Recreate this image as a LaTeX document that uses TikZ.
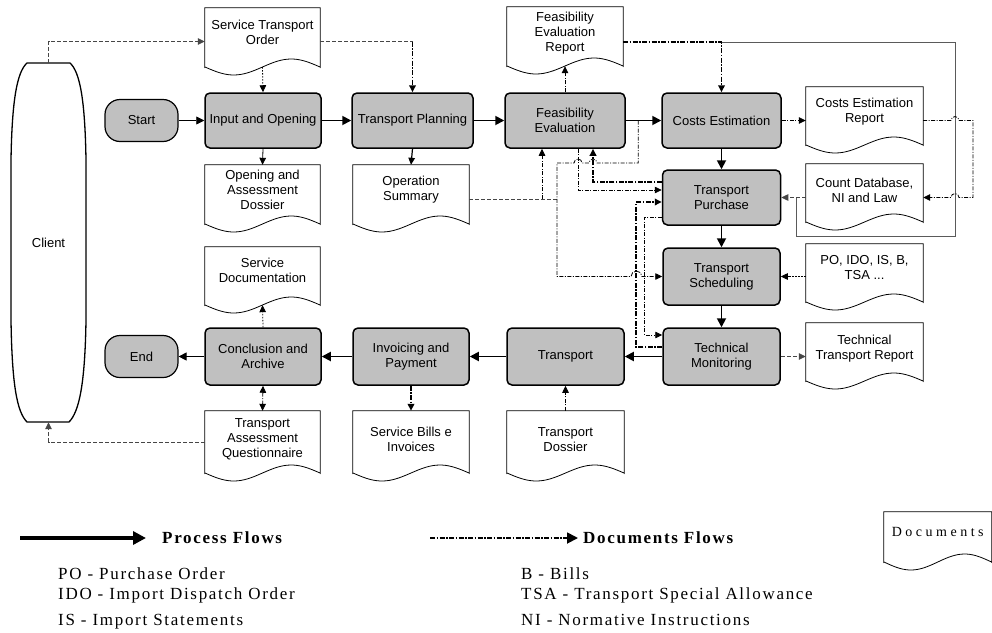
\documentclass[tikz,border=0pt]{standalone}
\usepackage{fontspec}
\setmainfont{Liberation Serif}
\setsansfont{Liberation Sans}
\newfontfamily\legfont[LetterSpace=10]{Liberation Serif}
\newfontfamily\legdocfont[LetterSpace=25]{Liberation Serif}
\usetikzlibrary{arrows.meta,calc}
\definecolor{procgray}{RGB}{192,192,192}
\definecolor{dashgray}{RGB}{70,70,70}
\definecolor{loopgray}{RGB}{90,90,90}
\newcommand\dgfont{\sffamily\fontsize{13}{15}\selectfont}
% document symbol: name, left, top, right, bottom of straight sides, text, text lift
\newcommand\docshape[7]{%
  \node[docframe, minimum width={#4-#2}, minimum height={#5-#3}] (#1) at ({(#2+#4)/2},{(#3+#5)/2}) {};
  \draw[docline] (#1.south east) -- (#1.north east) -- (#1.north west) -- (#1.south west)
    -- plot[domain=0:1, samples=36] ({#2+\x*(#4-#2)},{#5+8*sin(360*\x)}) -- cycle;
  \node[doctext] (#1t) at ([yshift=#7pt]#1.center) {#6};
}
\begin{document}
\begin{tikzpicture}[x=1pt,y=-1pt,
  proc/.style={draw, line width=1.5pt, rounded corners=5pt, fill=procgray, font=\dgfont,
    align=center, inner sep=2pt, minimum height=55pt},
  term/.style={draw, line width=1.2pt, rounded corners=15pt, fill=procgray, font=\dgfont,
    minimum width=73pt, minimum height=42pt},
  docframe/.style={inner sep=0pt},
  docline/.style={line width=0.8pt, fill=white},
  doctext/.style={font=\dgfont, align=center, inner sep=0pt},
  pflow/.style={line width=1.8pt, -{Triangle[length=9pt,width=9pt]}},
  pthin/.style={line width=0.8pt, -{Triangle[length=8pt,width=8pt]}},
  dtip/.style={-{Triangle[length=7pt,width=6.5pt]}},
  dashdot/.style={line width=0.8pt, dash pattern=on 4pt off 1.5pt on 1pt off 1.5pt},
  dashdotthick/.style={line width=1.8pt, dash pattern=on 5pt off 1.5pt on 1.5pt off 1.5pt},
  dashthin/.style={line width=0.8pt, dash pattern=on 4pt off 2pt, draw=dashgray},
  dotthin/.style={line width=0.8pt, dash pattern=on 1.5pt off 1.5pt},
  loopline/.style={line width=0.8pt, draw=loopgray},
  legtext/.style={font=\legfont\fontsize{17}{20}\selectfont, inner sep=0pt, anchor=base west},
  legbold/.style={font=\legfont\fontsize{17}{20}\selectfont\bfseries, inner sep=0pt, anchor=west}]
\useasboundingbox (0,0) rectangle (992,632);

% client pool
\node[font=\dgfont, minimum width=74pt, minimum height=359pt] (client) at (48.5,242.5) {Client};
\draw[line width=1.3pt] (27,63) .. controls (17,72) and (12,100) .. (11,160) -- (11,320)
  .. controls (12,385) and (17,412) .. (27,422) -- (69,422)
  .. controls (79,412) and (85,385) .. (86,320) -- (86,160)
  .. controls (85,100) and (80,72) .. (70,63) -- cycle;

% terminals
\node[term] (start) at (141.5,120.5) {Start};
\node[term] (endn) at (141.5,356.5) {End};

% process steps
\node[proc, minimum width=116pt] (io) at (263,120.5) {Input and Opening};
\node[proc, minimum width=121pt] (tplan) at (412.5,120.5) {Transport Planning};
\node[proc, minimum width=120pt] (fe) at (565,120.5) {Feasibility\\Evaluation};
\node[proc, minimum width=119pt] (ce) at (721.5,120.5) {Costs Estimation};
\node[proc, minimum width=118pt] (tpur) at (721.5,197.5) {Transport\\Purchase};
\node[proc, minimum width=117pt, minimum height=57pt] (tsch) at (721.5,276.5) {Transport\\Scheduling};
\node[proc, minimum width=117pt, minimum height=57pt] (tmon) at (721.5,356.5) {Technical\\Monitoring};
\node[proc, minimum width=117pt, minimum height=57pt] (trans) at (565.5,356.5) {Transport};
\node[proc, minimum width=116pt, minimum height=57pt] (inv) at (411,356.5) {Invoicing and\\Payment};
\node[proc, minimum width=116pt, minimum height=57pt] (concl) at (263,356.5) {Conclusion and\\Archive};

% documents
\docshape{sto}{205}{8}{320}{67}{Service Transport\\Order}{5}
\docshape{oad}{205}{165}{320}{224}{Opening and\\Assessment\\Dossier}{4.5}
\docshape{opsum}{353}{165}{469}{224}{Operation\\Summary}{4.5}
\docshape{fer}{507}{7}{623}{66}{Feasibility\\Evaluation\\Report}{3.5}
\docshape{cer}{806}{87}{923}{145}{Costs Estimation\\Report}{4}
\docshape{cdb}{806}{164}{923}{222}{Count Database,\\NI and Law}{3}
\docshape{pos}{806}{244}{923}{302}{PO, IDO, IS, B,\\TSA ...}{5.5}
\docshape{ttr}{806}{323}{923}{381}{Technical\\Transport Report}{3.5}
\docshape{sdoc}{205}{247}{320}{305}{Service\\Documentation}{6}
\docshape{taq}{205}{411}{320}{473}{Transport\\Assessment\\Questionnaire}{2.5}
\docshape{sbi}{353}{411}{469}{473}{Service Bills e\\Invoices}{2.5}
\docshape{tdos}{507}{411}{624}{473}{Transport\\Dossier}{2.5}

% process flows
\draw[pthin] (start) -- (io);
\draw[pflow] (io) -- (tplan);
\draw[pflow] (tplan) -- (fe);
\draw[pflow] (fe) -- (ce);
\draw[pflow] (ce) -- (tpur);
\draw[pflow] (tpur) -- (tsch);
\draw[pflow] (tsch) -- (tmon);
\draw[pflow] (tmon) -- (trans);
\draw[pflow] (trans) -- (inv);
\draw[pflow] (inv) -- (concl);
\draw[pthin] (concl) -- (endn);

% document flows
\coordinate (stoL) at ([yshift=-4pt]sto.west);
\coordinate (stoR) at ([yshift=-4pt]sto.east);
\draw[dashthin, dtip] (client.north) |- (stoL);
\draw[dashthin] (stoR) -- (stoR -| tplan.north);
\draw[dashdotthick, dtip] (stoR -| tplan.north) -- (tplan.north);
\draw[dotthin, dtip] (sto.south) -- (io.north);
\draw[line width=0.8pt, dtip] (io.south) -- (oad.north);
\draw[line width=1.2pt, dtip] (tplan.south) -- (opsum.north);
\draw[dashdot, dtip] (fe.north) -- (fer.south);

\coordinate (ferR) at ([yshift=-5.5pt]fer.east);
\draw[dashdotthick, dtip] (ferR) -| (ce.north);
\coordinate (loopA) at (955,42);
\coordinate (loopB) at (955,236);
\coordinate (loopC) at (796,236);
\draw[loopline] (ferR -| ce.north) -- (loopA) -- (loopB) -- (loopC) -- (loopC |- tpur.east);

\draw[dashthin, dtip] (cdb.west |- tpur.east) -- (tpur.east);
\draw[dashdot, dtip] (ce.east) -- (ce.east -| cer.west);
\draw[dashdot, dtip] (ce.east -| cer.east) -- (951,120.5) arc[start angle=180, end angle=0, radius=4pt]
  -- (973,120.5) -- (973,197.5) -- (959,197.5) arc[start angle=0, end angle=180, radius=4pt]
  -- (cdb.east |- tpur.east);

% links around the feasibility, purchase and monitoring steps
\coordinate (osR) at ([yshift=-4.5pt]opsum.east);
\coordinate (feA) at ([xshift=-23pt]fe.south);
\draw[dashthin] (osR) -- (557,199);
\draw[dashdot, dtip] (osR -| feA) -- (feA);

\coordinate (feB) at ($(fe.east)!0.35!(ce.west)$);
\draw[dashdot, dtip] (feB) -- ++(0,42.5) -- (597,163) arc[start angle=0, end angle=180, radius=4pt]
  -- (582,163) arc[start angle=0, end angle=180, radius=4pt] -- (557,163) -- (557,276.5)
  -- (631,276.5) arc[start angle=180, end angle=0, radius=5.5pt] -- (tsch.west);

\coordinate (feC) at ([xshift=13pt]fe.south);
\coordinate (tpA) at ([yshift=7.5pt]tpur.west);
\draw[dashdot, dtip] (feC) |- (tpA);

\coordinate (feD) at ([xshift=28pt]fe.south);
\coordinate (tpB) at ([yshift=15.5pt]tpur.west);
\draw[dashdotthick, dtip] (tpB) -| (feD);

\coordinate (tmA) at ([yshift=9.5pt]tmon.west);
\coordinate (tpC) at ([yshift=-4.5pt]tpur.west);
\draw[dashdotthick, dtip] (tmA) -- ++(-26,0) |- (tpC);

\coordinate (tpD) at ([yshift=-19.5pt]tpur.west);
\coordinate (tmB) at ([yshift=21.5pt]tmon.west);
\draw[dashdot, dtip] (tpD) -- ++(-17,0) |- (tmB);

\draw[dashthin, dtip] (tmon.east) -- (tmon.east -| ttr.west);
\draw[dotthin, dtip] (pos.west |- tsch.east) -- (tsch.east);
\draw[dashdot, {Triangle[length=7pt,width=6.5pt]}-{Triangle[length=7pt,width=6.5pt]}] (concl.south) -- (taq.north);
\draw[dotthin, dtip] (concl.north) -- (sdoc.south);
\draw[dashdotthick, dtip] (inv.south) -- (inv.south |- sbi.north);
\draw[dashdot, dtip] (tdos.north) -- (trans.south);
\draw[dashthin, dtip] (taq.west) -| (client.south);

% legend
\coordinate (lgA) at (20,538);
\node[legbold] (lgP) at (162,538) {Process Flows};
\draw[line width=4.5pt, -{Triangle[length=13pt,width=13pt]}] (lgA) -- ([xshift=-16pt]lgP.west);
\coordinate (lgB) at (430,538);
\node[legbold] (lgD) at (583,538) {Documents Flows};
\draw[dashdotthick, -{Triangle[length=11pt,width=11pt]}] (lgB) -- ([xshift=-5pt]lgD.west);

\node[legtext] (ab1) at (58,579) {PO - Purchase Order};
\node[legtext] (ab2) at (58,599) {IDO - Import Dispatch Order};
\node[legtext] (ab3) at (58,625) {IS - Import Statements};
\node[legtext] (ab4) at (521,579) {B - Bills};
\node[legtext] (ab5) at (521,599) {TSA - Transport Special Allowance};
\node[legtext] (ab6) at (521,625) {NI - Normative Instructions};

\docshape{legdoc}{884}{512}{991.5}{562}{\legdocfont\fontsize{14}{16}\selectfont Documents}{5}
\end{tikzpicture}
\end{document}
